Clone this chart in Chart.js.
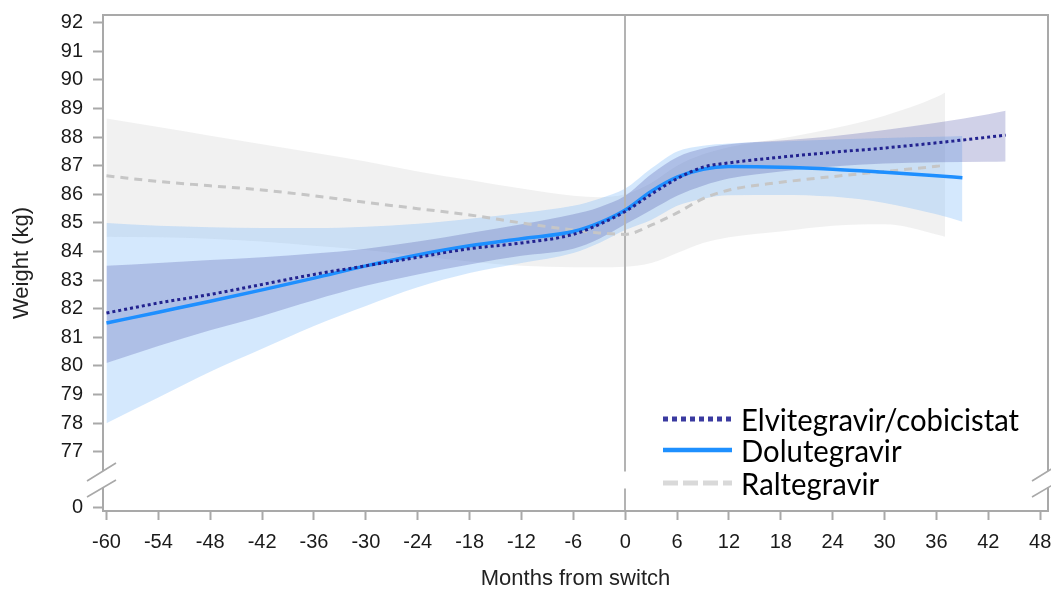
<!DOCTYPE html>
<html>
<head>
<meta charset="utf-8">
<script src="https://cdn.jsdelivr.net/npm/chart.js@4.4.1/dist/chart.umd.min.js"></script>
<style>html,body{margin:0;padding:0;background:#fff;}canvas{display:block;}</style>
</head>
<body>
<canvas id="c" width="1051" height="590"></canvas>
<script>
// ---------- data ----------
const seriesNames = ['Elvitegravir/cobicistat', 'Dolutegravir', 'Raltegravir'];

const monthsE = [-60,-54,-48,-42,-36,-30,-24,-18,-12,-6,-3,0,3,6,9,12,18,24,30,36,42,44];
const weightE = [81.85,82.2,82.5,82.85,83.2,83.5,83.8,84.1,84.3,84.6,84.95,85.4,86.0,86.55,86.95,87.1,87.3,87.47,87.62,87.8,88.0,88.07];
const upperE  = [83.5,83.6,83.7,83.8,83.93,84.1,84.35,84.65,84.95,85.3,85.55,85.95,86.7,87.3,87.6,87.75,87.88,88.03,88.25,88.5,88.8,88.92];
const lowerE  = [80.1,80.7,81.25,81.75,82.3,82.8,83.2,83.55,83.85,84.1,84.45,84.95,85.45,85.95,86.3,86.55,86.8,86.97,87.08,87.12,87.14,87.15];

const monthsD = [-60,-54,-48,-42,-36,-30,-24,-18,-12,-6,-3,0,3,6,9,12,18,24,30,36,39];
const weightD = [81.5,81.88,82.26,82.66,83.07,83.5,83.88,84.2,84.45,84.7,85.0,85.45,86.1,86.6,86.88,86.97,86.95,86.88,86.77,86.65,86.58];
const upperD  = [85.0,84.9,84.85,84.82,84.82,84.87,84.97,85.15,85.35,85.6,85.85,86.2,86.9,87.5,87.7,87.78,87.85,87.92,87.97,88.01,88.04];
const lowerD  = [78.0,78.9,79.8,80.6,81.4,82.1,82.75,83.25,83.6,83.95,84.3,84.75,85.1,85.6,85.85,85.97,85.98,85.92,85.7,85.3,85.04];

const monthsR = [-60,-54,-48,-42,-36,-30,-24,-18,-12,-6,-3,0,3,6,9,12,18,24,30,36,37];
const weightR = [86.65,86.45,86.3,86.15,85.95,85.72,85.5,85.28,85.0,84.75,84.65,84.6,84.92,85.35,85.85,86.15,86.42,86.62,86.8,86.98,87.02];
const upperR  = [88.65,88.35,88.05,87.75,87.45,87.15,86.8,86.5,86.2,85.95,85.9,86.0,86.4,87.0,87.4,87.65,87.95,88.3,88.75,89.4,89.56];
const lowerR  = [84.52,84.5,84.45,84.35,84.2,84.05,83.85,83.65,83.5,83.45,83.45,83.47,83.6,83.95,84.3,84.5,84.7,84.9,84.95,84.6,84.52];

const xTicks = [-60,-54,-48,-42,-36,-30,-24,-18,-12,-6,0,6,12,18,24,30,36,42,48];
const xTickLabels = ['-60','-54','-48','-42','-36','-30','-24','-18','-12','-6','0','6','12','18','24','30','36','42','48'];
const yTicks = [77,78,79,80,81,82,83,84,85,86,87,88,89,90,91,92];
const yTickLabels = ['77','78','79','80','81','82','83','84','85','86','87','88','89','90','91','92'];
const yBreakTicks = [0];
const yBreakTickLabels = ['0'];
const xTitle = 'Months from switch';
const yTitle = 'Weight (kg)';

// ---------- styles ----------
const colE = '#22228f', colD = '#1e8fff', colR = '#c6c6c6';
const bandColE = 'rgba(40,45,150,0.22)';
const bandColD = 'rgba(120,185,250,0.32)';
const bandColR = 'rgba(170,170,170,0.16)';
const axisCol = '#a9a9a9';
const tickFont = {family: '"Liberation Sans", Arial, sans-serif', size: 20};

const mk = (xs, ys) => xs.map((x, i) => ({x: x, y: ys[i]}));
const lineDs = (label, xs, ys, color, width, dash) => ({
  label, data: mk(xs, ys), yAxisID: 'y', borderColor: color, borderWidth: width,
  borderDash: dash, borderCapStyle: 'butt', pointRadius: 0, fill: false,
  cubicInterpolationMode: 'monotone'
});
const bandTop = (xs, ys) => ({
  label: '_band', data: mk(xs, ys), yAxisID: 'y', borderWidth: 0,
  borderColor: 'rgba(0,0,0,0)', pointRadius: 0, fill: false, cubicInterpolationMode: 'monotone'
});
const bandBottom = (xs, ys, color) => ({
  label: '_band', data: mk(xs, ys), yAxisID: 'y', borderWidth: 0,
  borderColor: 'rgba(0,0,0,0)', backgroundColor: color, pointRadius: 0, fill: '-1',
  cubicInterpolationMode: 'monotone'
});

const datasets = [
  lineDs(seriesNames[0], monthsE, weightE, colE, 3, [3, 3]),
  lineDs(seriesNames[1], monthsD, weightD, colD, 3.5, []),
  lineDs(seriesNames[2], monthsR, weightR, colR, 3, [8, 6]),
  bandTop(monthsE, upperE), bandBottom(monthsE, lowerE, bandColE),
  bandTop(monthsD, upperD), bandBottom(monthsD, lowerD, bandColD),
  bandTop(monthsR, upperR), bandBottom(monthsR, lowerR, bandColR)
];

// ---------- plugins ----------
const zeroLinePlugin = {
  id: 'zeroLine',
  beforeDatasetsDraw(chart) {
    const {ctx, chartArea: a} = chart;
    const x = Math.round(chart.scales.x.getPixelForValue(0));
    const yb = chart.scales.y.bottom;
    ctx.save();
    ctx.strokeStyle = '#b3b3b3'; ctx.lineWidth = 2;
    ctx.beginPath();
    ctx.moveTo(x, a.top); ctx.lineTo(x, yb - 8);
    ctx.moveTo(x, yb + 9); ctx.lineTo(x, a.bottom);
    ctx.stroke();
    ctx.restore();
  }
};

const framePlugin = {
  id: 'frame',
  afterDatasetsDraw(chart) {
    const {ctx, chartArea: a} = chart;
    const yb = chart.scales.y.bottom;
    const L = a.left, R = a.right;
    ctx.save();
    ctx.strokeStyle = axisCol; ctx.lineWidth = 2;
    ctx.beginPath();
    ctx.moveTo(L - 1, a.top); ctx.lineTo(R + 1, a.top);
    ctx.moveTo(L - 1, a.bottom); ctx.lineTo(R + 1, a.bottom);
    ctx.moveTo(L, a.top); ctx.lineTo(L, yb - 8.4);
    ctx.moveTo(L, yb + 7.6); ctx.lineTo(L, a.bottom);
    ctx.moveTo(R, a.top); ctx.lineTo(R, yb - 8.4);
    ctx.moveTo(R, yb + 7.6); ctx.lineTo(R, a.bottom);
    ctx.stroke();
    ctx.lineWidth = 1.6;
    ctx.beginPath();
    [L, R].forEach(X => {
      ctx.moveTo(X - 16, yb + 1.5); ctx.lineTo(X + 13, yb - 16.5);
      ctx.moveTo(X - 16, yb + 17.5); ctx.lineTo(X + 13, yb + 0.5);
    });
    ctx.stroke();
    ctx.restore();
  }
};

const textPlugin = {
  id: 'texts',
  afterDraw(chart) {
    const {ctx, chartArea: a} = chart;
    ctx.save();
    // y-axis title
    ctx.translate(22, (a.top + a.bottom) / 2);
    ctx.rotate(-Math.PI / 2);
    ctx.font = '22px "Liberation Sans", Arial, sans-serif';
    ctx.fillStyle = '#222';
    ctx.textAlign = 'center'; ctx.textBaseline = 'middle';
    ctx.fillText(yTitle, 0, 0);
    ctx.restore();

    // legend
    const x0 = a.right - 385, x1 = x0 + 69, tx = x0 + 78;
    const rows = [a.top + 404, a.top + 435, a.top + 468];
    const styles = [
      {c: '#3a3aa0', w: 5, d: [5, 4]},
      {c: '#1e90ff', w: 4.5, d: []},
      {c: '#d9d9d9', w: 5, d: [15, 5]}
    ];
    ctx.save();
    ctx.font = '30px Lato, "Noto Sans", sans-serif';
    const sx = 278 / ctx.measureText(seriesNames[0]).width;
    seriesNames.forEach((name, i) => {
      const s = styles[i];
      ctx.save();
      ctx.strokeStyle = s.c; ctx.lineWidth = s.w; ctx.setLineDash(s.d); ctx.lineCap = 'butt';
      ctx.beginPath(); ctx.moveTo(x0, rows[i]); ctx.lineTo(x1, rows[i]); ctx.stroke();
      ctx.restore();
      ctx.save();
      ctx.fillStyle = '#000'; ctx.textBaseline = 'middle'; ctx.textAlign = 'left';
      ctx.translate(tx, rows[i] + 2); ctx.scale(sx, 1);
      ctx.fillText(name, 0, 0);
      ctx.restore();
    });
    ctx.restore();
  }
};

const zeroPad = s => { s.paddingLeft = 0; s.paddingRight = 0; s.paddingTop = 0; s.paddingBottom = 0; };

new Chart(document.getElementById('c'), {
  type: 'line',
  data: {datasets},
  options: {
    responsive: false, animation: false, devicePixelRatio: 1,
    layout: {padding: {top: 15, right: 3, left: 0, bottom: 0}},
    plugins: {
      legend: {display: false}, tooltip: {enabled: false},
      filler: {propagate: false, drawTime: 'beforeDatasetsDraw'}
    },
    scales: {
      x: {
        type: 'linear', min: -60.4, max: 48.9,
        afterBuildTicks: s => { s.ticks = xTicks.map(v => ({value: v})); },
        afterFit: s => { s.height = 79; zeroPad(s); },
        ticks: {autoSkip: false, maxRotation: 0, padding: 10, color: '#1a1a1a', font: tickFont,
                callback: (v, i) => xTickLabels[i]},
        grid: {drawOnChartArea: false, drawTicks: true, tickLength: 9, tickColor: axisCol, tickWidth: 2},
        border: {display: false},
        title: {display: true, text: xTitle, color: '#222',
                font: {family: '"Liberation Sans", Arial, sans-serif', size: 22}, padding: {top: 0, bottom: -2}}
      },
      y: {
        type: 'linear', position: 'left', stack: 'w', stackWeight: 464.5, weight: 1,
        min: 76.03, max: 92.27,
        afterBuildTicks: s => { s.ticks = yTicks.map(v => ({value: v})); },
        afterFit: s => { s.width = 103; zeroPad(s); },
        ticks: {autoSkip: false, padding: 10, color: '#1a1a1a', font: tickFont, callback: (v, i) => yTickLabels[i]},
        grid: {drawOnChartArea: false, drawTicks: true, tickLength: 10, tickColor: axisCol, tickWidth: 2},
        border: {display: false}
      },
      y0: {
        type: 'linear', position: 'left', stack: 'w', stackWeight: 31.5, weight: 0,
        min: -0.105, max: 0.895,
        afterBuildTicks: s => { s.ticks = yBreakTicks.map(v => ({value: v})); },
        afterFit: s => { s.width = 103; zeroPad(s); },
        ticks: {autoSkip: false, padding: 10, color: '#1a1a1a', font: tickFont, callback: (v, i) => yBreakTickLabels[i]},
        grid: {drawOnChartArea: false, drawTicks: true, tickLength: 10, tickColor: axisCol, tickWidth: 2},
        border: {display: false}
      }
    }
  },
  plugins: [zeroLinePlugin, framePlugin, textPlugin]
});
</script>
</body>
</html>
